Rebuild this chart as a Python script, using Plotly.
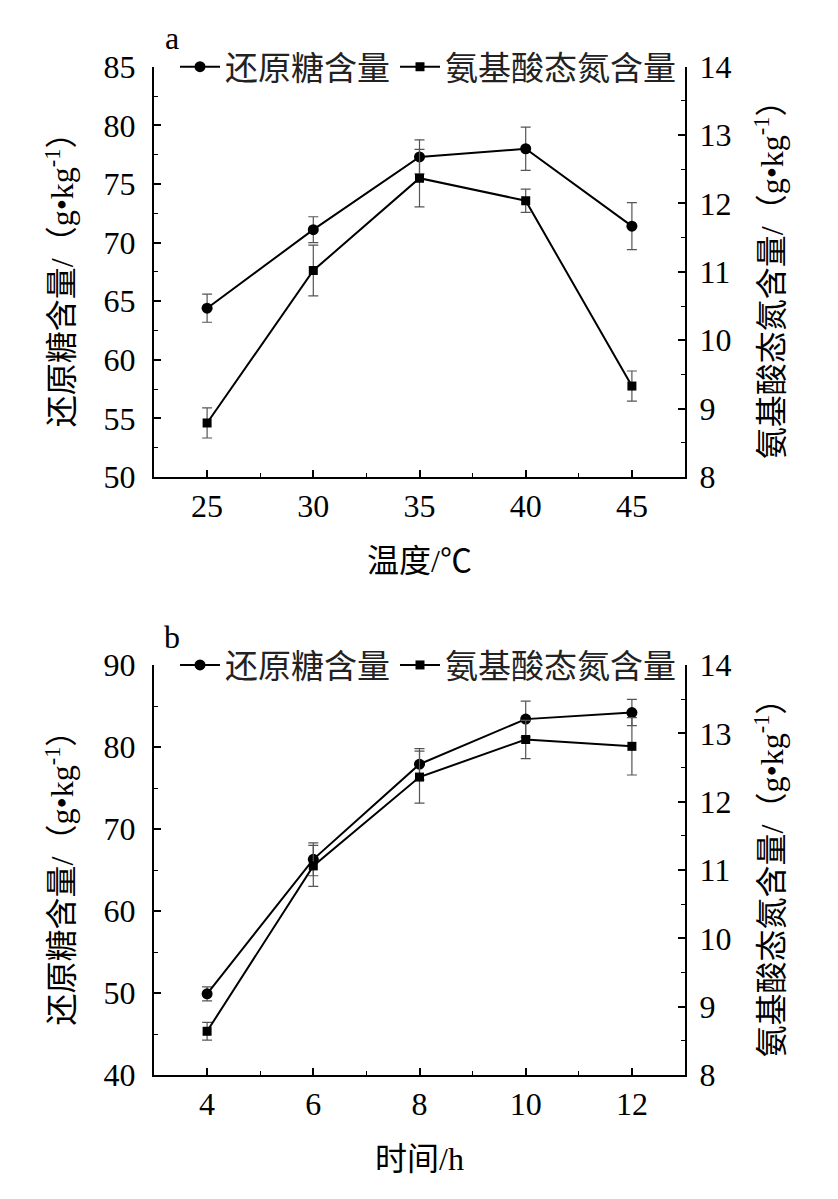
import plotly.graph_objects as go

# ---- data ----
temp = [25, 30, 35, 40, 45]
sugar_a = [64.4, 71.1, 77.3, 78.0, 71.4]
sugar_a_err = [1.2, 1.1, 1.45, 1.85, 2.0]
nitro_a = [8.79, 11.02, 12.37, 12.04, 9.33]
nitro_a_err = [0.22, 0.37, 0.42, 0.17, 0.22]

hours = [4, 6, 8, 10, 12]
sugar_b = [49.9, 66.3, 77.9, 83.4, 84.2]
sugar_b_err = [0.85, 2.0, 1.9, 2.2, 1.6]
nitro_b = [8.64, 11.06, 12.36, 12.91, 12.81]
nitro_b_err = [0.13, 0.3, 0.38, 0.28, 0.42]

name_sugar = "还原糖含量"
name_nitro = "氨基酸态氮含量"
ytitle_left = "还原糖含量/（g•kg<sup>-1</sup>）"
ytitle_right = "氨基酸态氮含量/（g•kg<sup>-1</sup>）"
xtitle_a = "温度/℃"
xtitle_b = "时间/h"

FONT = "Liberation Serif, Noto Sans CJK SC, serif"
FS = 32
# page body has an 8px margin, so the figure is drawn 8px in from the window edge
OFF = 8
W, H = 838 - OFF, 1199 - OFF

def px(x):
    return (x - OFF) / W

def py(y):
    return 1 - (y - OFF) / H

xdom = [px(154), px(685)]
ydom_a = [py(477), py(66.7)]
ydom_b = [py(1075), py(665)]

fig = go.Figure()

def add_pair(xs, s, se, n, ne, xa, ya_l, ya_r, leg):
    fig.add_trace(go.Scatter(
        x=xs, y=s, mode="lines+markers", name=name_sugar, legend=leg,
        line=dict(color="black", width=2),
        marker=dict(symbol="circle", size=11, color="black"),
        error_y=dict(type="data", array=se, color="#555", thickness=1.2, width=5),
        xaxis=xa, yaxis=ya_l))
    fig.add_trace(go.Scatter(
        x=xs, y=n, mode="lines+markers", name=name_nitro, legend=leg,
        line=dict(color="black", width=2),
        marker=dict(symbol="square", size=9, color="black"),
        error_y=dict(type="data", array=ne, color="#555", thickness=1.2, width=5),
        xaxis=xa, yaxis=ya_r))

add_pair(temp, sugar_a, sugar_a_err, nitro_a, nitro_a_err, "x", "y", "y2", "legend")
add_pair(hours, sugar_b, sugar_b_err, nitro_b, nitro_b_err, "x2", "y3", "y4", "legend2")

tickfont = dict(family=FONT, size=FS, color="black")
common = dict(showline=True, linecolor="black", linewidth=2, ticks="inside",
              ticklen=7, tickwidth=1.5, tickcolor="black", tickfont=tickfont,
              showgrid=False, zeroline=False, automargin=False)

def minor(dt):
    return dict(ticks="inside", ticklen=4, tickwidth=1.2, tickcolor="black", dtick=dt)

legfont = dict(family=FONT, size=33, color="#222")

fig.update_layout(
    width=W, height=H,
    margin=dict(l=0, r=0, t=0, b=0),
    paper_bgcolor="white", plot_bgcolor="white",
    font=dict(family=FONT, size=FS, color="black"),
    xaxis=dict(domain=xdom, anchor="y", range=[22.5, 47.5], tickvals=temp,
               minor=minor(2.5), title=dict(text=xtitle_a, font=tickfont, standoff=26),
               **common),
    yaxis=dict(domain=ydom_a, anchor="x", range=[50, 85], dtick=5, ticklabelstandoff=10,
               minor=minor(2.5), title=dict(text=ytitle_left, font=tickfont, standoff=20),
               **common),
    yaxis2=dict(overlaying="y", side="right", anchor="x", range=[8, 14], dtick=1,
                ticklabelstandoff=6,
                minor=minor(0.5), title=dict(text=ytitle_right, font=tickfont, standoff=30),
                **common),
    xaxis2=dict(domain=xdom, anchor="y3", range=[3, 13], tickvals=hours,
                minor=minor(1), title=dict(text=xtitle_b, font=tickfont, standoff=26),
                **common),
    yaxis3=dict(domain=ydom_b, anchor="x2", range=[40, 90], dtick=10, ticklabelstandoff=10,
                minor=minor(5), title=dict(text=ytitle_left, font=tickfont, standoff=20),
                **common),
    yaxis4=dict(overlaying="y3", side="right", anchor="x2", range=[8, 14], dtick=1,
                ticklabelstandoff=6,
                minor=minor(0.5), title=dict(text=ytitle_right, font=tickfont, standoff=30),
                **common),
    legend=dict(orientation="h", x=px(175), xanchor="left", y=ydom_a[1], yanchor="middle",
                font=legfont, bgcolor="rgba(0,0,0,0)", itemwidth=40, tracegroupgap=0),
    legend2=dict(orientation="h", x=px(175), xanchor="left", y=ydom_b[1], yanchor="middle",
                 font=legfont, bgcolor="rgba(0,0,0,0)", itemwidth=40, tracegroupgap=0),
)

fig.add_annotation(text="a", x=px(172), y=py(38), xref="paper", yref="paper",
                   xanchor="center", yanchor="middle",
                   showarrow=False, font=dict(family=FONT, size=FS))
fig.add_annotation(text="b", x=px(172), y=py(637), xref="paper", yref="paper",
                   xanchor="center", yanchor="middle",
                   showarrow=False, font=dict(family=FONT, size=FS))

fig.write_html("out.html")
